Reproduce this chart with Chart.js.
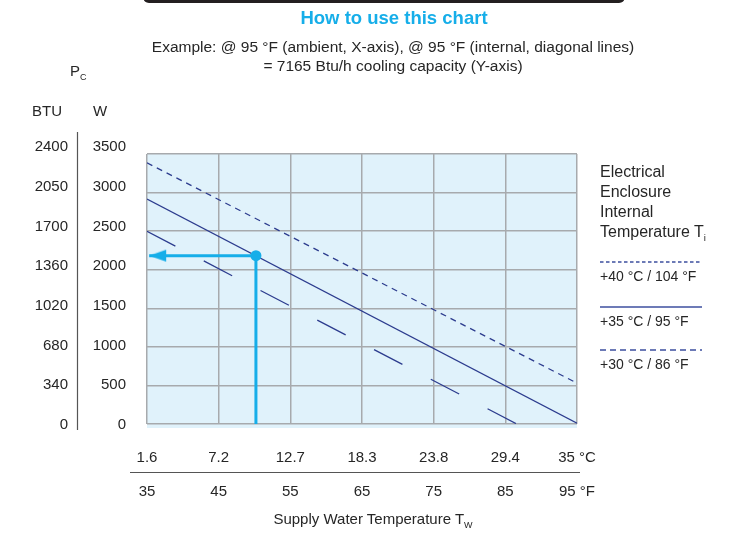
<!DOCTYPE html>
<html>
<head>
<meta charset="utf-8">
<title>Cooling capacity chart</title>
<script src="https://cdn.jsdelivr.net/npm/chart.js@4.4.1/dist/chart.umd.min.js"></script>
<style>
  body { margin: 0; background: #fff; }
  #wrap { position: relative; width: 732px; height: 535px; overflow: hidden;
          font-family: "Liberation Sans", Arial, sans-serif; color: #262626; }
  #chart { position: absolute; left: 0; top: 0; }
  .txt { position: absolute; white-space: nowrap; line-height: 1; }
  .mid { transform: translateX(-50%); }
  sub { font-size: 60%; vertical-align: -0.4em; line-height: 0; }
  #topbar { position: absolute; left: 143px; top: -7px; width: 482px; height: 9.5px;
            background: #231f20; border-radius: 0 0 6px 6px; }
  #title { font-weight: bold; color: #16aee9; font-size: 18.5px; }
  #legendHead { position: absolute; left: 600px; top: 161.7px; font-size: 16px; line-height: 20px; }
</style>
</head>
<body>
<div id="wrap">
  <canvas id="chart" width="732" height="535"></canvas>
  <div id="topbar"></div>
  <div id="title" class="txt mid" style="left:394px;top:9.3px">How to use this chart</div>
  <div class="txt mid" style="left:393px;top:38.8px;font-size:15.5px">Example: @ 95 °F (ambient, X-axis), @ 95 °F (internal, diagonal lines)</div>
  <div class="txt mid" style="left:393px;top:57.8px;font-size:15.5px">= 7165 Btu/h cooling capacity (Y-axis)</div>
  <div class="txt" style="left:70px;top:63px;font-size:15px">P<sub>C</sub></div>
  <div class="txt" style="left:32px;top:103px;font-size:15px">BTU</div>
  <div class="txt" style="left:93px;top:103px;font-size:15px">W</div>
  <div class="txt mid" style="left:373px;top:511px;font-size:15px">Supply Water Temperature T<sub>W</sub></div>
  <div id="legendHead">Electrical<br>Enclosure<br>Internal<br>Temperature T<sub>i</sub></div>
  <div id="legend"></div>
</div>
<script>
// x axis: supply water temperature, °F ticks with °C labels above
const fahrenheitTicks = [35, 45, 55, 65, 75, 85, 95];
const fahrenheitLabels = ["35", "45", "55", "65", "75", "85", "95 °F"];
const celsiusLabels = ["1.6", "7.2", "12.7", "18.3", "23.8", "29.4", "35 °C"];

// y axis: cooling capacity Pc in W, BTU labels beside it
const wattTicks = [0, 500, 1000, 1500, 2000, 2500, 3000, 3500];
const btuLabels = ["0", "340", "680", "1020", "1360", "1700", "2050", "2400"];

// one diagonal line per internal temperature (ends)
const seriesNames = ["+40 °C / 104 °F", "+35 °C / 95 °F", "+30 °C / 86 °F"];
const waterTempF = [[35, 95], [35, 95], [35, 86.6]];
const capacityW = [[3385, 530], [2915, 10], [2497, 0]];

// worked example marked on the +35 °C line
const exampleWaterF = 50.2;
const exampleCapacityW = 2182;
const arrowTipF = 35.3;

const navy = "#2c3c8e";
const cyan = "#16aee9";
const gridColor = "#a7aaad";
const textColor = "#262626";
const lineDash = [[6, 5], [], [32, 32]];
const legendDash = ["3.5 2.5", "", "6 4"];

Chart.defaults.font.family = "'Liberation Sans', Arial, sans-serif";
Chart.defaults.color = textColor;

// arrow head image, tip sits at the centre of the canvas
const arrowHead = document.createElement("canvas");
arrowHead.width = 36;
arrowHead.height = 14;
(function () {
  const c = arrowHead.getContext("2d");
  c.fillStyle = cyan;
  c.beginPath();
  c.moveTo(18, 7);
  c.lineTo(35, 1);
  c.lineTo(35, 13);
  c.closePath();
  c.fill();
})();

const datasets = seriesNames.map((name, i) => ({
  label: name,
  data: waterTempF[i].map((f, j) => ({ x: f, y: capacityW[i][j] })),
  borderColor: navy,
  borderWidth: 1.3,
  borderDash: lineDash[i],
  pointRadius: 0,
  order: 3
}));

datasets.push({
  label: "example",
  data: [
    { x: arrowTipF, y: exampleCapacityW },
    { x: exampleWaterF, y: exampleCapacityW },
    { x: exampleWaterF, y: 0 }
  ],
  borderColor: cyan,
  borderWidth: 3,
  pointRadius: 0,
  order: 2
});
datasets.push({
  label: "example point",
  data: [{ x: exampleWaterF, y: exampleCapacityW }],
  showLine: false,
  pointRadius: 5.5,
  pointBackgroundColor: cyan,
  pointBorderWidth: 0,
  order: 1
});
datasets.push({
  label: "arrow",
  data: [{ x: arrowTipF, y: exampleCapacityW }],
  showLine: false,
  pointStyle: arrowHead,
  order: 0
});

const plotBackground = {
  id: "plotBackground",
  beforeDraw(chart) {
    const { ctx, chartArea: a } = chart;
    ctx.save();
    ctx.fillStyle = "#e0f2fb";
    ctx.fillRect(a.left, a.top, a.width, a.height + 4);
    ctx.restore();
  }
};

// thin rules between the BTU/W columns and the °C/°F rows
const separators = {
  id: "separators",
  afterDraw(chart) {
    const { ctx, chartArea: a, scales } = chart;
    ctx.save();
    ctx.strokeStyle = "#555";
    ctx.lineWidth = 1.2;
    ctx.beginPath();
    const xb = Math.round(scales.yBtu.right) + 0.5;
    ctx.moveTo(xb, a.top - 22);
    ctx.lineTo(xb, a.bottom + 6);
    const yf = Math.round(scales.xF.top) + 0.5;
    ctx.moveTo(a.left - 17, yf);
    ctx.lineTo(a.right + 3, yf);
    ctx.stroke();
    ctx.restore();
  }
};

const tickFont = { size: 15 };
const wattTickList = s => { s.ticks = wattTicks.map(v => ({ value: v })); };
const fahrTickList = s => { s.ticks = fahrenheitTicks.map(v => ({ value: v })); };

// the printed W/BTU labels are spread a little wider than the grid,
// so the two label columns use a slightly narrower value range
const labelMin = 13;
const labelMax = 3412;

new Chart(document.getElementById("chart"), {
  type: "line",
  data: { datasets: datasets },
  options: {
    responsive: false,
    animation: false,
    layout: { padding: { left: 0, right: 155, top: 154, bottom: 23 } },
    plugins: { legend: { display: false }, tooltip: { enabled: false } },
    scales: {
      x: {
        type: "linear", position: "bottom", weight: 0, min: 35, max: 95,
        afterBuildTicks: fahrTickList,
        ticks: { autoSkip: false, maxRotation: 0, padding: 25, font: tickFont,
                 callback: (v, i) => celsiusLabels[i] },
        grid: { color: gridColor, lineWidth: 1.5, drawTicks: false },
        border: { display: false },
        afterFit: s => { s.height = 48; }
      },
      xF: {
        type: "linear", position: "bottom", weight: 1, min: 35, max: 95,
        afterBuildTicks: fahrTickList,
        ticks: { autoSkip: false, maxRotation: 0, padding: 11, font: tickFont,
                 callback: (v, i) => fahrenheitLabels[i] },
        grid: { display: false, drawTicks: false },
        border: { display: false },
        afterFit: s => { s.height = 40; }
      },
      y: {
        position: "left", weight: -1, min: 0, max: 3500,
        afterBuildTicks: wattTickList,
        ticks: { display: false },
        grid: { color: gridColor, lineWidth: 1.5, drawTicks: false },
        border: { display: false },
        afterFit: s => { s.width = 0; }
      },
      yW: {
        position: "left", weight: 0, min: labelMin, max: labelMax,
        afterBuildTicks: wattTickList,
        ticks: { autoSkip: false, padding: 21, font: tickFont, callback: v => String(v) },
        grid: { display: false, drawTicks: false },
        border: { display: false },
        afterFit: s => { s.width = 70; }
      },
      yBtu: {
        position: "left", weight: 1, min: labelMin, max: labelMax,
        afterBuildTicks: wattTickList,
        ticks: { autoSkip: false, padding: 9, font: tickFont, callback: (v, i) => btuLabels[i] },
        grid: { display: false, drawTicks: false },
        border: { display: false },
        afterFit: s => { s.width = 77; }
      }
    }
  },
  plugins: [plotBackground, separators]
});

// legend on the right, built from the series names
const legendTop = [262, 307, 350];
const legend = document.getElementById("legend");
seriesNames.forEach((name, i) => {
  const svg = document.createElementNS("http://www.w3.org/2000/svg", "svg");
  svg.setAttribute("width", "102");
  svg.setAttribute("height", "4");
  svg.style.position = "absolute";
  svg.style.left = "600px";
  svg.style.top = (legendTop[i] - 2) + "px";
  const ln = document.createElementNS("http://www.w3.org/2000/svg", "line");
  ln.setAttribute("x1", "0"); ln.setAttribute("y1", "2");
  ln.setAttribute("x2", "102"); ln.setAttribute("y2", "2");
  ln.setAttribute("stroke", "#3d4f9f");
  ln.setAttribute("stroke-width", "1.4");
  if (legendDash[i]) ln.setAttribute("stroke-dasharray", legendDash[i]);
  svg.appendChild(ln);
  legend.appendChild(svg);

  const label = document.createElement("div");
  label.className = "txt";
  label.style.left = "600px";
  label.style.top = (legendTop[i] + 7) + "px";
  label.style.fontSize = "14px";
  label.textContent = name;
  legend.appendChild(label);
});
</script>
</body>
</html>
